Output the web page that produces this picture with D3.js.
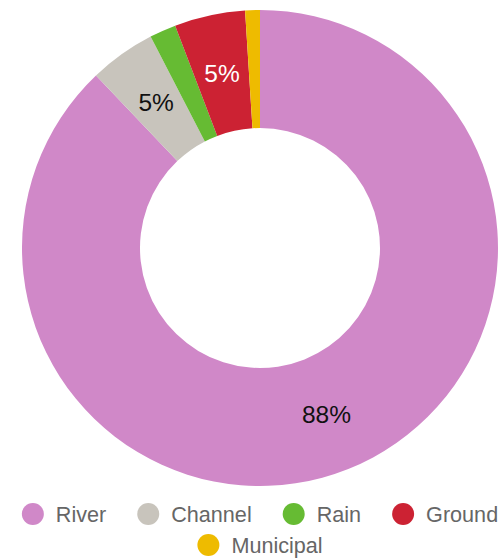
<!DOCTYPE html>
<html>
<head>
<meta charset="utf-8">
<script src="https://cdn.jsdelivr.net/npm/d3@7"></script>
<style>
  body { margin: 0; background: #fff; }
  svg { display: block; font-family: "Liberation Sans", Arial, sans-serif; }
</style>
</head>
<body>
<div id="donut"></div>
<script>
// data (percent of total)
var categories = ["River", "Channel", "Rain", "Ground", "Municipal"];
var values = [87.9, 4.5, 1.8, 4.8, 1.0];
var colors = ["#d088c8", "#c8c4bc", "#66bb33", "#cc2233", "#eebb00"];
var labelColors = ["#111", "#111", "#fff", "#fff", "#111"];

var svgwidth = 504, svgheight = 558;
var cx = 260, cy = 248, outerR = 238, innerR = 120;

var data = categories.map(function(c, i) { return {name: c, value: values[i], i: i}; });

var svg = d3.select("#donut").append("svg")
    .attr("width", svgwidth)
    .attr("height", svgheight);

var g = svg.append("g")
    .attr("transform", "translate(" + cx + "," + cy + ")");

var pie = d3.pie().sort(null).value(function(d) { return d.value; });
var arc = d3.arc().innerRadius(innerR).outerRadius(outerR);

var arcs = pie(data);

g.selectAll("path")
    .data(arcs)
  .enter().append("path")
    .attr("d", arc)
    .style("fill", function(d) { return colors[d.data.i]; });

// only label slices big enough to hold the text
g.selectAll("text.pct")
    .data(arcs.filter(function(d) { return d.data.value >= 3; }))
  .enter().append("text")
    .attr("class", "pct")
    .attr("transform", function(d) { return "translate(" + arc.centroid(d) + ")"; })
    .attr("text-anchor", "middle")
    .attr("dy", "0.35em")
    .style("font-size", "24.5px")
    .style("fill", function(d) { return labelColors[d.data.i]; })
    .text(function(d) { return Math.round(d.data.value) + "%"; });

// legend: flow layout, centred rows
var legendFont = 21.6, dotR = 11, dotGap = 12, itemGap = 31, maxW = 490;
var rowY = [514, 545];

var legend = svg.append("g");
var items = legend.selectAll("g.item")
    .data(data)
  .enter().append("g")
    .attr("class", "item");

items.append("circle")
    .attr("r", dotR)
    .attr("cx", dotR)
    .style("fill", function(d) { return colors[d.i]; });

items.append("text")
    .attr("x", 2 * dotR + dotGap)
    .attr("dy", "0.35em")
    .style("font-size", legendFont + "px")
    .style("fill", "#666")
    .text(function(d) { return d.name; });

var rows = [[]], rowW = [0];
items.each(function(d) {
    var w = this.getBBox().width;
    var r = rows.length - 1;
    var add = (rows[r].length ? itemGap : 0) + w;
    if (rowW[r] + add > maxW && rows[r].length) {
        rows.push([]); rowW.push(0); r++; add = w;
    }
    rows[r].push({node: this, w: w});
    rowW[r] += add;
});

rows.forEach(function(row, r) {
    var x = cx - rowW[r] / 2;
    row.forEach(function(it) {
        d3.select(it.node).attr("transform", "translate(" + x + "," + rowY[r] + ")");
        x += it.w + itemGap;
    });
});
</script>
</body>
</html>
